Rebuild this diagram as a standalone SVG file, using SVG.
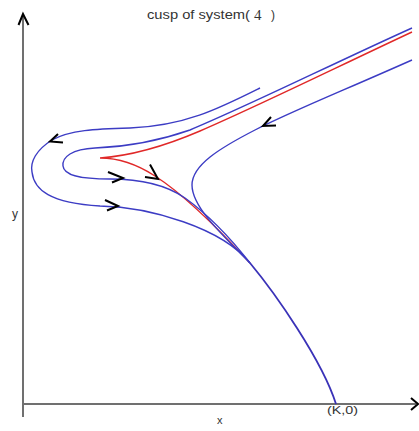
<svg xmlns="http://www.w3.org/2000/svg" width="419" height="431" viewBox="0 0 419 431">
<style>
.ax{stroke:#707070;stroke-width:2;fill:none}
.bl{stroke:#3c3cc4;stroke-width:1.4;fill:none}
.rd{stroke:#e02828;stroke-width:1.4;fill:none}
.ar{stroke:#000;stroke-width:2;fill:none;stroke-linejoin:miter}
.t{font-family:"Liberation Sans",Arial,sans-serif;fill:#333}
</style>
<rect width="419" height="431" fill="#fff"/>
<g id="axes">
<line class="ax" x1="23" y1="16" x2="23" y2="417"/>
<line class="ax" x1="23" y1="404" x2="416" y2="404"/>
<polyline class="ar" points="18.5,25 23,14 28.5,25"/>
<polyline class="ar" points="411,398 418,404 411,410"/>
</g>
<g id="connectors">
<path class="rd" d="M412,32 C335,68 258,106 200,131 C165,146 128,156 100,158 C118,158 135,163 155,176 C180,192 215,225 250,263"/>
<path class="bl" d="M260,88 C220,108 185,126 130,128 C95,129 70,130 52,140 C36,150 30,162 32,172 C34,190 50,203 100,206 C150,207 222,228 250,263"/>
<path class="bl" d="M412,28 C330,65 250,105 190,130 C150,144 120,147 95,148 C72,149 62,157 63,166 C64,175 78,179 110,179 C140,179 165,184 185,198 C210,216 232,240 250,263"/>
<path class="bl" d="M412,60 C340,92 290,112 255,130 C220,148 192,165 192,185 C192,205 215,228 250,263"/>
<path class="bl" d="M250,263 C275,293 322,360 336,404" style="stroke-width:1.8;stroke:#3a32b8"/>
<polyline class="ar" points="58,134 50,141.5 63,142.5"/>
<polyline class="ar" points="105,200 118,206 107,210.5"/>
<polyline class="ar" points="108,172 123,178 112,182.5"/>
<polyline class="ar" points="150,164.5 158,179 145,177"/>
<polyline class="ar" points="271,117 263,126 276,125.5"/>
</g>
<g id="labels">
<text class="t" x="147" y="19" font-size="12" textLength="103" lengthAdjust="spacingAndGlyphs">cusp of system(</text>
<text x="254" y="20" font-family="'Liberation Serif','Times New Roman',serif" font-size="15" fill="#333">4</text>
<text class="t" x="271" y="19" font-size="12">)</text>
<text class="t" x="12" y="218" font-size="12" fill="#222">y</text>
<text class="t" x="217" y="424" font-size="11" fill="#222">x</text>
<text class="t" x="327" y="414" font-size="11" fill="#666" textLength="31" lengthAdjust="spacingAndGlyphs">(K,0)</text>
</g>
</svg>
